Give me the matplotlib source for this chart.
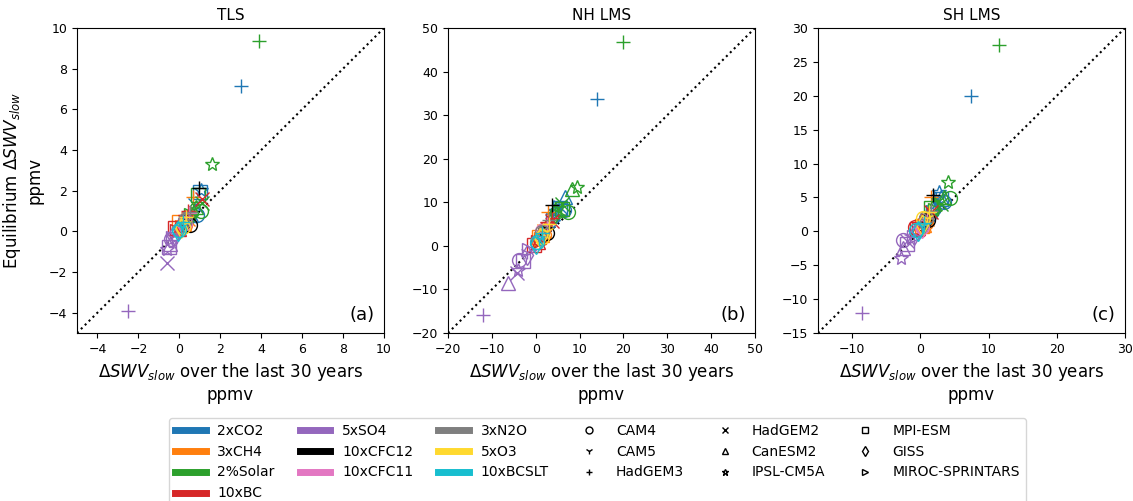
import numpy as np
import matplotlib
matplotlib.use("Agg")
import matplotlib.pyplot as plt
from matplotlib.lines import Line2D

nan = np.nan

forcings = ["2xCO2", "3xCH4", "2%Solar", "10xBC", "5xSO4",
            "10xCFC12", "10xCFC11", "3xN2O", "5xO3", "10xBCSLT"]
forcing_colors = ["#1f77b4", "#ff7f0e", "#2ca02c", "#d62728", "#9467bd",
                  "#000000", "#e377c2", "#7f7f7f", "#ffd92f", "#17becf"]
models = ["CAM4", "CAM5", "HadGEM3", "HadGEM2", "CanESM2", "IPSL-CM5A",
          "MPI-ESM", "GISS", "MIROC-SPRINTARS"]
model_markers = ["o", "1", "+", "x", "^", "*", "s", "d", ">"]

# ---- TLS (panel a): rows = forcings, columns = models ----
tls_x = [
    [0.85, 0.6, 3.0, 0.75, 0.55, 1.05, 1.0, 0.5, 0.45],
    [0.3, 0.35, 0.65, 0.4, 0.25, 0.5, 0.0, 0.2, 0.15],
    [1.05, 0.7, 3.9, 1.1, 0.8, 1.6, 0.9, 0.6, 0.55],
    [0.1, 0.2, 0.4, 1.1, 0.0, 0.3, -0.2, 0.15, -0.1],
    [-0.4, -0.35, -2.5, -0.6, -0.45, -0.6, -0.5, -0.3, -0.3],
    [0.5, 0.4, 0.95, nan, nan, nan, nan, 0.3, nan],
    [0.3, 0.25, 0.45, nan, nan, nan, nan, 0.2, nan],
    [0.3, 0.35, 0.5, nan, nan, nan, nan, 0.25, nan],
    [0.2, 0.3, 0.35, nan, nan, nan, nan, 0.1, nan],
    [0.0, 0.1, 0.2, nan, nan, nan, nan, -0.05, nan],
]
tls_y = [
    [0.8, 0.9, 7.15, 1.3, 0.8, 2.05, 1.95, 0.7, 0.6],
    [0.3, 0.5, 1.7, 0.6, 0.35, 0.9, 0.45, 0.3, 0.2],
    [1.0, 1.1, 9.35, 1.4, 1.2, 3.3, 1.8, 0.9, 0.8],
    [0.2, 0.4, 1.0, 1.6, 0.1, 0.7, 0.15, 0.3, 0.0],
    [-0.4, -0.3, -3.9, -1.55, -0.6, -0.85, -0.75, -0.25, -0.35],
    [0.3, 0.5, 2.15, nan, nan, nan, nan, 0.4, nan],
    [0.4, 0.5, 0.9, nan, nan, nan, nan, 0.3, nan],
    [0.55, 0.5, 0.95, nan, nan, nan, nan, 0.4, nan],
    [0.2, 0.35, 0.7, nan, nan, nan, nan, 0.15, nan],
    [0.05, 0.2, 0.45, nan, nan, nan, nan, 0.0, nan],
]

# ---- NH LMS (panel b) ----
nh_x = [
    [6.5, 5.0, 14.0, 5.5, 6.6, 4.5, 5.5, 4.0, 4.0],
    [2.0, 2.5, 2.7, 2.0, 1.5, 2.2, 0.8, 1.5, 1.2],
    [7.4, 5.1, 19.8, 6.0, 8.3, 9.3, 6.0, 4.5, 5.0],
    [1.0, 2.1, 3.6, 3.6, 0.5, 2.5, -0.5, 1.5, 0.5],
    [-3.9, -2.0, -12.0, -4.3, -6.4, -4.0, -3.0, -2.0, -1.5],
    [2.5, 2.0, 3.8, nan, nan, nan, nan, 1.5, nan],
    [1.4, 1.5, 2.5, nan, nan, nan, nan, 1.0, nan],
    [1.4, 2.0, 3.0, nan, nan, nan, nan, 1.2, nan],
    [1.5, 2.5, 3.0, nan, nan, nan, nan, 1.0, nan],
    [0.2, 0.8, 1.5, nan, nan, nan, nan, 0.0, nan],
]
nh_y = [
    [8.2, 8.5, 33.7, 9.0, 11.3, 8.0, 8.8, 6.5, 6.0],
    [2.5, 3.5, 7.85, 3.5, 2.5, 4.0, 2.0, 2.5, 1.5],
    [7.85, 8.6, 46.8, 9.5, 13.0, 13.5, 8.5, 7.5, 7.0],
    [1.5, 4.4, 6.5, 5.6, 1.0, 5.0, 0.2, 3.0, 1.0],
    [-3.2, -1.3, -15.9, -6.3, -8.6, -5.5, -3.5, -2.0, -1.0],
    [2.9, 3.5, 9.4, nan, nan, nan, nan, 2.5, nan],
    [3.3, 3.0, 5.0, nan, nan, nan, nan, 2.0, nan],
    [3.2, 3.8, 6.0, nan, nan, nan, nan, 2.5, nan],
    [2.0, 3.5, 5.0, nan, nan, nan, nan, 1.8, nan],
    [1.0, 1.5, 3.0, nan, nan, nan, nan, 0.5, nan],
]

# ---- SH LMS (panel c) ----
sh_x = [
    [3.5, 2.5, 7.4, 2.8, 3.0, 2.8, 3.0, 2.0, 1.8],
    [0.8, 1.0, 1.6, 1.0, 0.6, 1.0, 0.3, 0.8, 0.5],
    [4.3, 2.5, 11.5, 3.0, 3.5, 4.0, 1.6, 2.0, 2.2],
    [-0.8, 0.5, 1.0, 1.5, -0.3, 0.8, -0.5, 0.3, -0.2],
    [-2.5, -1.5, -8.5, -2.0, -2.5, -2.8, -2.0, -1.0, -1.0],
    [1.1, 1.0, 1.85, nan, nan, nan, nan, 0.8, nan],
    [0.3, 0.5, 1.0, nan, nan, nan, nan, 0.2, nan],
    [0.9, 0.8, 1.5, nan, nan, nan, nan, 0.5, nan],
    [0.4, 1.0, 1.2, nan, nan, nan, nan, 0.3, nan],
    [-0.6, 0.2, 0.5, nan, nan, nan, nan, -0.3, nan],
]
sh_y = [
    [4.4, 4.0, 20.0, 4.5, 5.0, 5.85, 4.8, 3.0, 2.8],
    [1.2, 1.5, 5.1, 1.8, 1.0, 2.0, 0.8, 1.2, 0.8],
    [4.9, 4.5, 27.5, 4.0, 5.0, 7.3, 3.4, 3.5, 3.2],
    [0.7, 1.5, 2.5, 2.8, 0.5, 2.0, 0.3, 1.0, 0.2],
    [-1.3, -0.8, -12.1, -1.5, -2.5, -4.0, -1.8, -0.6, -0.8],
    [1.7, 2.0, 5.4, nan, nan, nan, nan, 1.5, nan],
    [0.7, 1.0, 2.0, nan, nan, nan, nan, 0.5, nan],
    [2.0, 1.5, 3.0, nan, nan, nan, nan, 1.2, nan],
    [1.9, 2.0, 2.8, nan, nan, nan, nan, 1.0, nan],
    [0.2, 0.8, 1.3, nan, nan, nan, nan, 0.0, nan],
]

titles = ["TLS", "NH LMS", "SH LMS"]
panel_labels = ["(a)", "(b)", "(c)"]
limits = [(-5, 10), (-20, 50), (-15, 30)]
xticks = [list(range(-4, 11, 2)), list(range(-20, 51, 10)), list(range(-10, 31, 10))]
yticks = [list(range(-4, 11, 2)), list(range(-20, 51, 10)), list(range(-15, 31, 5))]
panels = [(tls_x, tls_y), (nh_x, nh_y), (sh_x, sh_y)]

fig = plt.figure(figsize=(11.33, 5.01), dpi=100)
lefts = [77, 448, 818]
for i, (px, py) in enumerate(panels):
    ax = fig.add_axes([lefts[i] / 1133, (501 - 333) / 501, 307 / 1133, 305 / 501])
    lo, hi = limits[i]
    ax.plot([lo, hi], [lo, hi], ":", color="black", lw=1.5, zorder=1)
    for fi in range(len(forcings)):
        for mi in range(len(models)):
            xv, yv = px[fi][mi], py[fi][mi]
            if np.isnan(xv):
                continue
            mk = model_markers[mi]
            filled = mk in ("1", "+", "x")
            ax.plot([xv], [yv], linestyle="none", marker=mk, ms=10,
                    mew=1.0, color=forcing_colors[fi],
                    mfc=forcing_colors[fi] if filled else "none", zorder=2)
    ax.set_xlim(lo, hi)
    ax.set_ylim(lo, hi)
    ax.set_xticks(xticks[i])
    ax.set_yticks(yticks[i])
    ax.tick_params(labelsize=9)
    ax.set_title(titles[i], fontsize=11)
    ax.text(0.97, 0.03, panel_labels[i], transform=ax.transAxes,
            ha="right", va="bottom", fontsize=13)
    ax.set_xlabel(r"$\Delta SWV_{slow}$ over the last 30 years" + "\nppmv",
                  fontsize=12)
    if i == 0:
        ax.set_ylabel(r"Equilibrium $\Delta SWV_{slow}$" + "\nppmv", fontsize=12)

handles = []
for f, c in zip(forcings, forcing_colors):
    handles.append(Line2D([], [], color=c, lw=5, label=f))
for m, mk in zip(models, model_markers):
    handles.append(Line2D([], [], linestyle="none", marker=mk, color="black",
                          mfc="none", ms=5, mew=1.0, label=m))
fig.legend(handles=handles, ncol=6, loc="upper center",
           bbox_to_anchor=(597.5 / 1133, (501 - 418) / 501), borderaxespad=0,
           fontsize=10, labelspacing=0.5, columnspacing=1.8, handlelength=2.2,
           handletextpad=0.85, frameon=True)

fig.savefig("out.png", dpi=100)
